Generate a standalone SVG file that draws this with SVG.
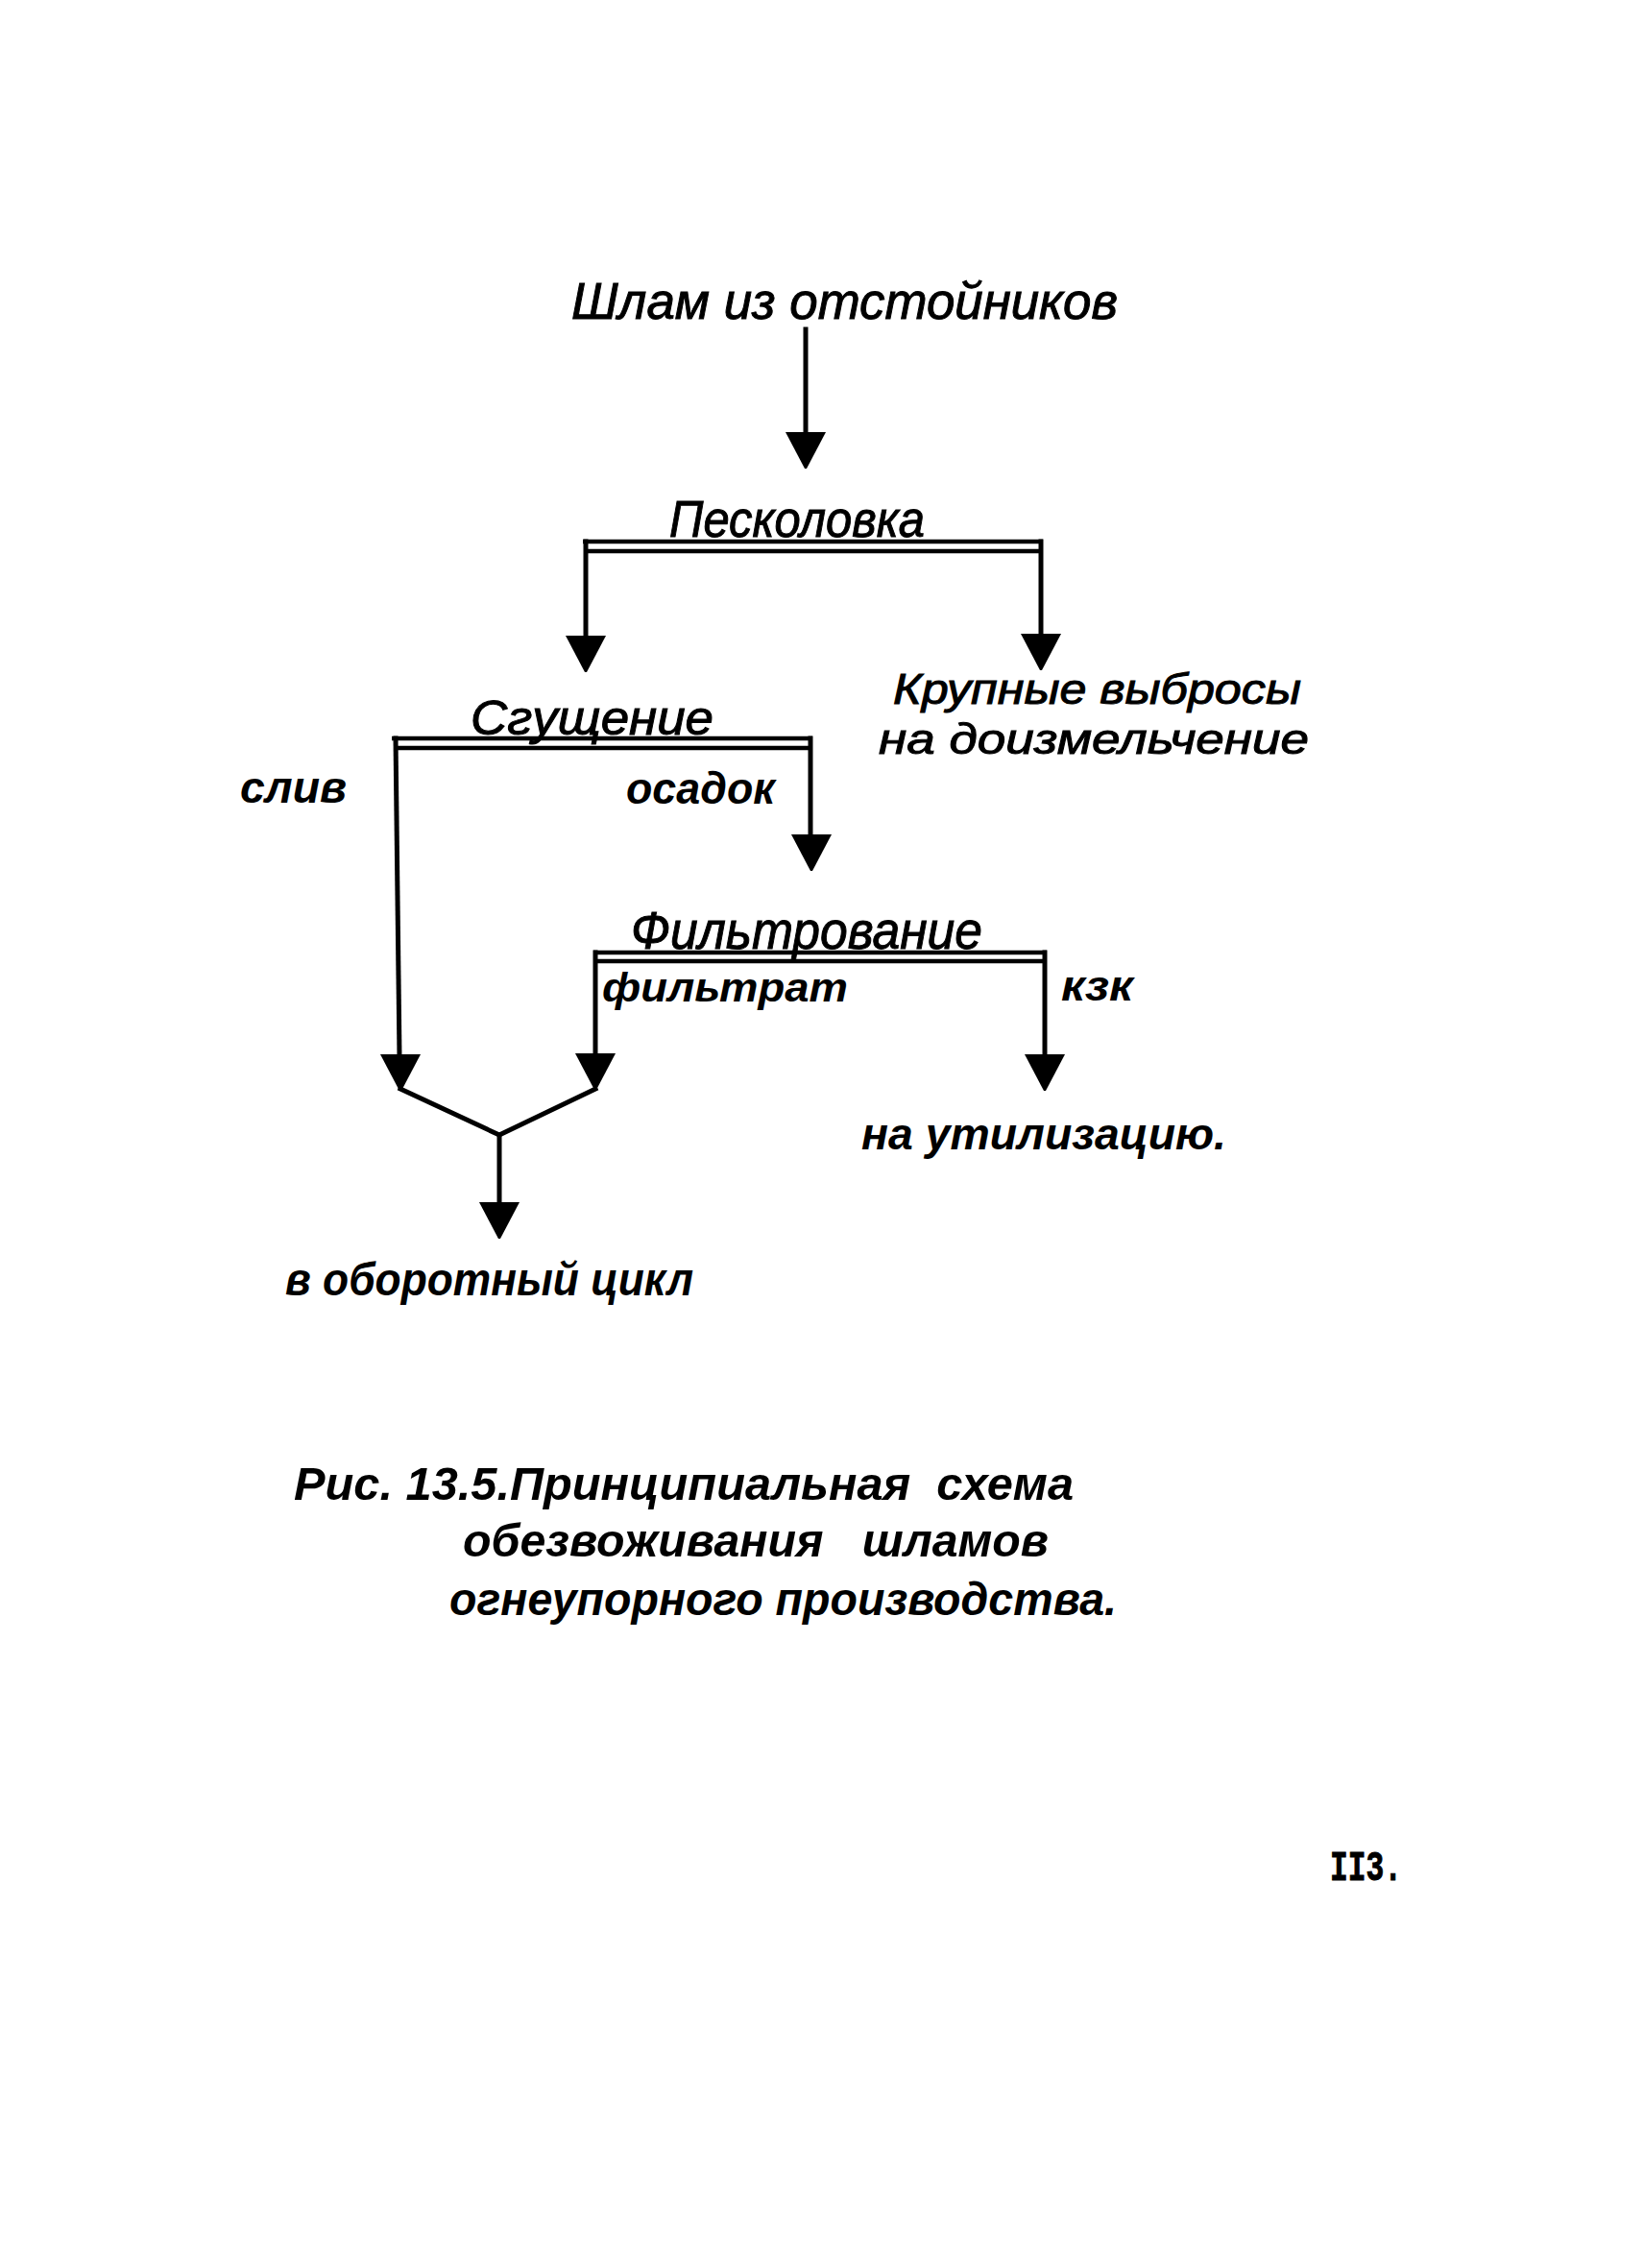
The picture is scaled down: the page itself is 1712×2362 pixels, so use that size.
<svg xmlns="http://www.w3.org/2000/svg" xmlns:xlink="http://www.w3.org/1999/xlink" width="1712" height="2362" viewBox="0 0 1712 2362">
<style>
  .t { font-family: "Liberation Sans", "DejaVu Sans", sans-serif; font-style: italic; fill: #000; }
  .n { font-weight: normal; stroke: #000; stroke-width: 1; }
  .b { font-weight: bold; }
  .ln { stroke: #000; stroke-width: 5; fill: none; stroke-linecap: square; stroke-linejoin: miter; }
  .bar { stroke: #000; stroke-width: 4.5; fill: none; }
  .pg { font-family: "Liberation Mono", "DejaVu Sans Mono", monospace; font-weight: bold; fill: #000; stroke: #000; stroke-width: 1; }
</style>
<defs>
  <path id="ah" d="M-21,0 L21,0 L1,38 L-1,38 Z" fill="#000"/>
</defs>
<rect x="0" y="0" width="1712" height="2362" fill="#fff"/>

<g id="connectors">
  <line class="ln" x1="839" y1="343" x2="839" y2="452"/>
  <use xlink:href="#ah" x="839" y="450"/>
  <line class="bar" x1="607" y1="564" x2="1086" y2="564"/>
  <line class="bar" x1="612" y1="574" x2="1082" y2="574"/>
  <line class="ln" x1="610" y1="564" x2="610" y2="664"/>
  <use xlink:href="#ah" x="610" y="662"/>
  <line class="ln" x1="1084" y1="564" x2="1084" y2="662"/>
  <use xlink:href="#ah" x="1084" y="660"/>
  <line class="bar" x1="408" y1="769" x2="846" y2="769"/>
  <line class="bar" x1="414" y1="779" x2="842" y2="779"/>
  <line class="ln" x1="412" y1="769" x2="416" y2="1100"/>
  <use xlink:href="#ah" x="417" y="1098"/>
  <line class="ln" x1="844" y1="769" x2="844" y2="872"/>
  <use xlink:href="#ah" x="845" y="869"/>
  <line class="bar" x1="618" y1="992" x2="1090" y2="992"/>
  <line class="bar" x1="622" y1="1001" x2="1086" y2="1001"/>
  <line class="ln" x1="620" y1="992" x2="620" y2="1100"/>
  <use xlink:href="#ah" x="620" y="1097"/>
  <line class="ln" x1="1088" y1="992" x2="1088" y2="1100"/>
  <use xlink:href="#ah" x="1088" y="1098"/>
  <polyline class="ln" points="417,1134 520,1182 620,1134"/>
  <line class="ln" x1="520" y1="1182" x2="520" y2="1255"/>
  <use xlink:href="#ah" x="520" y="1252"/>
</g>

<g id="node-source">
  <text class="t n" x="595" y="332" font-size="54" textLength="569" lengthAdjust="spacingAndGlyphs">Шлам из отстойников</text>
</g>
<g id="node-peskolovka">
  <text class="t n" x="697" y="559" font-size="54" textLength="266" lengthAdjust="spacingAndGlyphs">Песколовка</text>
</g>
<g id="node-krupnye">
  <text class="t n" x="930" y="733" font-size="45" textLength="425" lengthAdjust="spacingAndGlyphs">Крупные выбросы</text>
  <text class="t n" x="915" y="785" font-size="45" textLength="448" lengthAdjust="spacingAndGlyphs">на доизмельчение</text>
</g>
<g id="node-sgushchenie">
  <text class="t n" x="490" y="765" font-size="50" textLength="253" lengthAdjust="spacingAndGlyphs">Сгущение</text>
</g>
<g id="label-sliv">
  <text class="t b" x="250" y="836" font-size="46" textLength="111" lengthAdjust="spacingAndGlyphs">слив</text>
</g>
<g id="label-osadok">
  <text class="t b" x="652" y="837" font-size="46" textLength="155" lengthAdjust="spacingAndGlyphs">осадок</text>
</g>
<g id="node-filtrovanie">
  <text class="t n" x="657" y="988" font-size="56" textLength="366" lengthAdjust="spacingAndGlyphs">Фильтрование</text>
</g>
<g id="label-filtrat">
  <text class="t b" x="627" y="1043" font-size="42" textLength="256" lengthAdjust="spacingAndGlyphs">фильтрат</text>
</g>
<g id="label-kek">
  <text class="t b" x="1105" y="1042" font-size="44" textLength="75" lengthAdjust="spacingAndGlyphs">кзк</text>
</g>
<g id="node-utilizaciya">
  <text class="t b" x="897" y="1197" font-size="46" textLength="380" lengthAdjust="spacingAndGlyphs">на утилизацию.</text>
</g>
<g id="node-oborotny">
  <text class="t b" x="297" y="1349" font-size="48" textLength="425" lengthAdjust="spacingAndGlyphs">в оборотный цикл</text>
</g>

<g id="caption">
  <text class="t b" xml:space="preserve" x="306" y="1562" font-size="48" textLength="812" lengthAdjust="spacingAndGlyphs">Рис. 13.5.Принципиальная  схема</text>
  <text class="t b" xml:space="preserve" x="482" y="1621" font-size="48" textLength="610" lengthAdjust="spacingAndGlyphs">обезвоживания   шламов</text>
  <text class="t b" xml:space="preserve" x="468" y="1682" font-size="48" textLength="695" lengthAdjust="spacingAndGlyphs">огнеупорного производства.</text>
</g>
<g id="page-number">
  <text class="pg" x="1385" y="1958" font-size="44" textLength="75" lengthAdjust="spacingAndGlyphs">II3.</text>
</g>
</svg>
